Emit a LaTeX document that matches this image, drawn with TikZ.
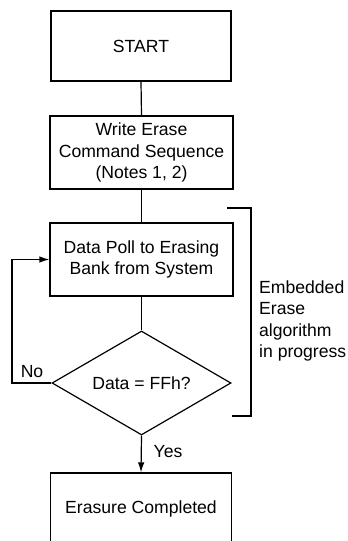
\documentclass[tikz,border=0pt]{standalone}
\usepackage{fontspec}
\setmainfont{Liberation Sans}
\usetikzlibrary{shapes.geometric,arrows.meta}
\begin{document}
\begin{tikzpicture}[x=1pt,y=1pt,
  every node/.style={font=\fontsize{17.6}{21.5}\selectfont},
  line/.style={line width=1.2pt},
  flowbox/.style={draw,line width=1.2pt,rectangle,inner sep=0pt,align=center},
  decision/.style={draw,line width=1.2pt,diamond,inner sep=0pt,aspect=1.72,minimum width=179pt,minimum height=104pt},
  tip/.style={-{Latex[length=10pt,width=6.5pt]}}]
\useasboundingbox (0,0) rectangle (348,541);
\clip (0,0) rectangle (348,541);
\node[flowbox,minimum width=180pt,minimum height=70pt] (start) at (141,495) {START};
\node[flowbox,minimum width=183pt,minimum height=73pt] (write) at (141.5,388.5) {Write Erase\\Command Sequence\\(Notes 1, 2)};
\node[flowbox,minimum width=183pt,minimum height=73pt] (poll) at (141.5,281.5) {Data Poll to Erasing\\Bank from System};
\node[decision] (dia) at (141.5,158) {Data = FFh?};
\node[flowbox,minimum width=181pt,minimum height=72pt] (done) at (141,32) {Erasure Completed};
\draw[line] (start.south) -- (write.north);
\draw[line] (write.south) -- (poll.north);
\draw[line] (poll.south) -- (dia.north);
\draw[line,tip] (dia.south) -- (done.north);
\coordinate (nb) at (12,158);
\coordinate (nt) at (12,281.5);
\draw[line,tip] (dia.west) -- (nb) -- (nt) -- (poll.west);
\node (no) at (32,169) {No};
\node (yes) at (168,89) {Yes};
\coordinate (b1) at (227,333);
\coordinate (b2) at (251,333);
\coordinate (b3) at (251,125);
\coordinate (b4) at (232,125);
\draw[line] (b1) -- (b2) -- (b3) -- (b4);
\node[anchor=west,align=left,inner sep=0pt] (emb) at (259,220) {Embedded\\Erase\\algorithm\\in progress};
\end{tikzpicture}
\end{document}
